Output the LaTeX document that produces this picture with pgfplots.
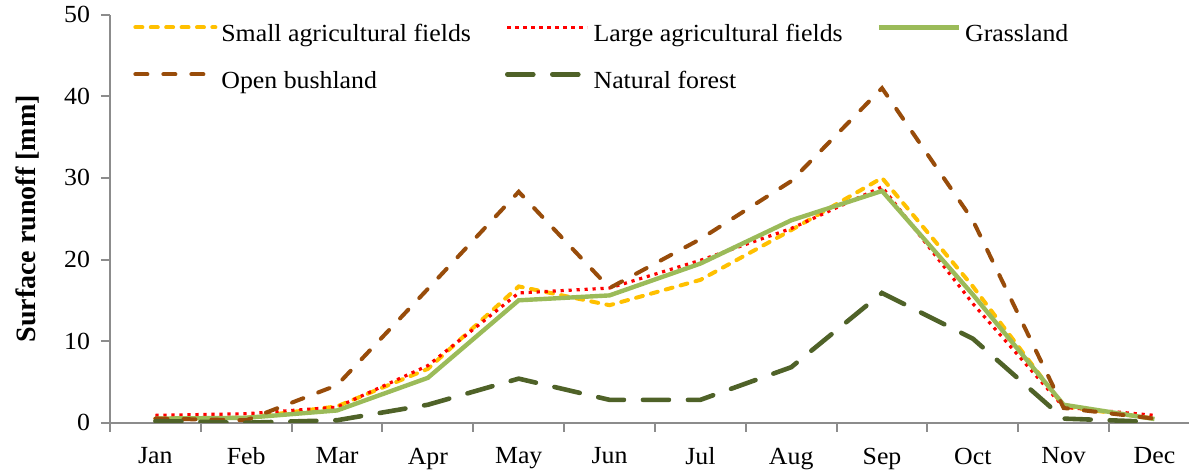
\documentclass[border=0pt]{standalone}
\usepackage{fontspec}
\setmainfont{Liberation Serif}[FakeStretch=1.05]
\newfontfamily\ylabfont{Liberation Serif}
\usepackage{pgfplots}
\pgfplotsset{compat=1.18}
\definecolor{cSmall}{RGB}{255,192,0}
\definecolor{cLarge}{RGB}{255,0,0}
\definecolor{cGrass}{RGB}{155,187,89}
\definecolor{cBush}{RGB}{152,76,10}
\definecolor{cForest}{RGB}{79,98,40}
\definecolor{axgray}{RGB}{140,140,140}
\begin{document}
\begin{tikzpicture}
\begin{axis}[
  scale only axis, width=539.5pt, height=204pt,
  at={(0,0)}, anchor=south west,
  xmin=-0.5, xmax=11.38, ymin=0, ymax=50,
  axis x line*=bottom, axis y line*=left,
  axis line style={axgray, line width=1pt},
  every tick/.style={axgray, line width=1pt},
  tick align=outside,
  major tick length=4.5pt,
  xtick={-0.5,0.5,...,10.5}, xticklabels={},
  extra x ticks={0,1,2,3,4,5,6,7,8,9,10,11},
  extra x tick labels={Jan,Feb,Mar,Apr,May,Jun,Jul,Aug,Sep,Oct,Nov,Dec},
  extra x tick style={major tick length=0pt},
  ytick={0,10,20,30,40,50},
  tick label style={font=\fontsize{12.3}{14}\selectfont, text=black},
  xticklabel style={yshift=-9pt},
  yticklabel style={xshift=-2pt},
  /pgf/number format/assume math mode=true,
  ylabel={\ylabfont\bfseries Surface runoff [mm]},
  ylabel style={font=\fontsize{14}{16}\selectfont, at={(axis description cs:-0.0760,0.5)}, anchor=center, rotate=0},
  legend columns=3,
  legend cell align=left,
  legend style={at={(axis description cs:0.0213,0.984)}, anchor=north west,
    draw=none, fill=none, inner sep=0pt, row sep=10.5pt,
    font=\fontsize{12.3}{14}\selectfont,
    nodes={inner sep=0pt, text height=10pt, text depth=3pt},
    /tikz/every odd column/.append style={column sep=2pt},
    /tikz/every even column/.append style={column sep=17pt}},
  legend image code/.code={\draw[#1] (0pt,3.6pt) -- (40pt,3.6pt);},
]
\addplot[cSmall, line width=2pt, line cap=round, dash pattern=on 3.5pt off 4.2pt] coordinates {
(0,0.5) (1,0.6) (2,2.0) (3,6.6) (4,16.7) (5,14.4) (6,17.5) (7,23.6) (8,30.0) (9,16.7) (10,2.0) (11,0.5)};
\addlegendentry{Small agricultural fields}
\addplot[cLarge, line width=1.6pt, dash pattern=on 1.6pt off 2.4pt] coordinates {
(0,0.9) (1,1.1) (2,1.9) (3,7.0) (4,15.9) (5,16.5) (6,19.9) (7,23.8) (8,28.9) (9,14.6) (10,1.9) (11,0.9)};
\addlegendentry{Large agricultural fields}
\addplot[cGrass, line width=2.2pt] coordinates {
(0,0.5) (1,0.6) (2,1.5) (3,5.5) (4,15.0) (5,15.6) (6,19.5) (7,24.8) (8,28.4) (9,15.7) (10,2.2) (11,0.45)};
\addlegendentry{Grassland}
\addplot[cBush, line width=2pt, line cap=round, dash pattern=on 6pt off 8pt] coordinates {
(0,0.5) (1,0.3) (2,4.6) (3,16.4) (4,28.3) (5,16.5) (6,22.5) (7,29.6) (8,41.0) (9,24.8) (10,1.8) (11,0.5)};
\addlegendentry{Open bushland}
\addplot[cForest, line width=2.3pt, line cap=round, dash pattern=on 13pt off 9.5pt] coordinates {
(0,0.2) (1,0.0) (2,0.3) (3,2.2) (4,5.4) (5,2.8) (6,2.8) (7,6.8) (8,15.9) (9,10.3) (10,0.5) (11,0.1)};
\addlegendentry{Natural forest}
\end{axis}
\pgfresetboundingbox
\useasboundingbox (-55pt,-24.15pt) rectangle (539.5pt,211.35pt);
\end{tikzpicture}
\end{document}
